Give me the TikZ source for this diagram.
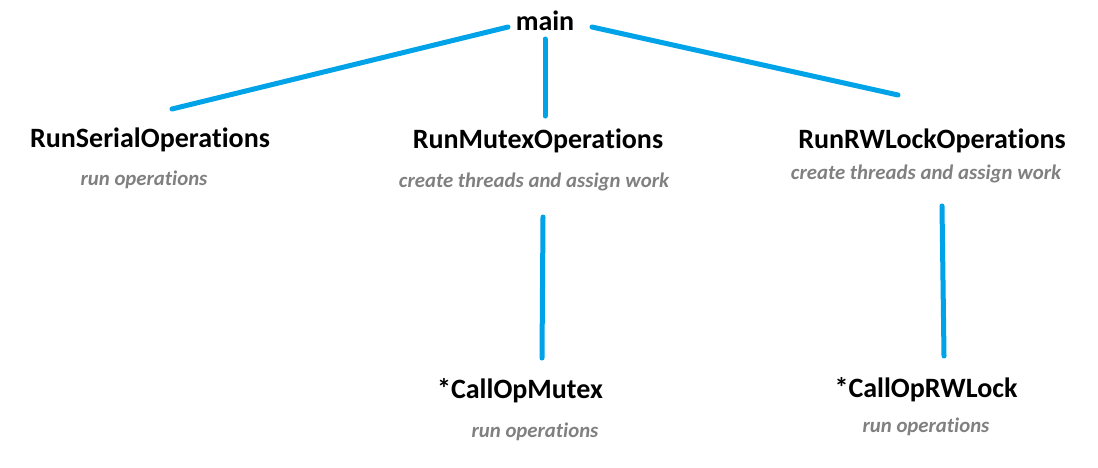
\documentclass[tikz,border=0pt]{standalone}
\usepackage{fontspec}
\setmainfont{Carlito}[RawFeature={-liga;-clig;-dlig;-calt;-hlig}]
\definecolor{linkblue}{RGB}{0,162,232}
\definecolor{subgray}{RGB}{128,128,128}
\begin{document}
\begin{tikzpicture}[x=1pt,y=-1pt,
  title/.style={font=\fontsize{28}{32}\selectfont\bfseries, text=black, anchor=base, inner sep=0pt},
  subtitle/.style={font=\fontsize{20.8}{24}\selectfont\bfseries\itshape, text=subgray, anchor=base, inner sep=0pt},
  link/.style={draw=linkblue, line width=5pt, line cap=round}]
\useasboundingbox (0,0) rectangle (1098,467);
% nodes
\node[title] (main) at (545,30) {main};
\node[title] (serial) at (150,147) {RunSerialOpera\kern0pt tions};
\node[subtitle] (serialsub) at (144,185) {run operations};
\node[title] (mutex) at (538,148) {RunMutexOpera\kern0pt tions};
\node[subtitle] (mutexsub) at (534,187) {create threads and assign work};
\node[title] (rw) at (932,148) {RunRWLockOpera\kern0pt tions};
\node[subtitle] (rwsub) at (926,179) {create threads and assign work};
\node[title] (callmutex) at (520,398) {*CallOpMutex};
\node[subtitle] (callmutexsub) at (535,437) {run opera\kern0pt tions};
\node[title] (callrw) at (926,397) {*CallOpRWLock};
\node[subtitle] (callrwsub) at (926,432) {run opera\kern0pt tions};
% connector end points
\coordinate (mainL) at (508,27);
\coordinate (serialT) at (172,109);
\coordinate (mainB) at (545,39);
\coordinate (mutexT) at (545,116);
\coordinate (mainR) at (592,27);
\coordinate (rwT) at (898,95);
\coordinate (mutexB) at (543,217);
\coordinate (callmutexT) at (542,358);
\coordinate (rwB) at (942,206);
\coordinate (callrwT) at (944,356);
% connectors
\draw[link] (mainL) -- (serialT);
\draw[link] (mainB) -- (mutexT);
\draw[link] (mainR) -- (rwT);
\draw[link] (mutexB) -- (callmutexT);
\draw[link] (rwB) -- (callrwT);
\end{tikzpicture}
\end{document}
